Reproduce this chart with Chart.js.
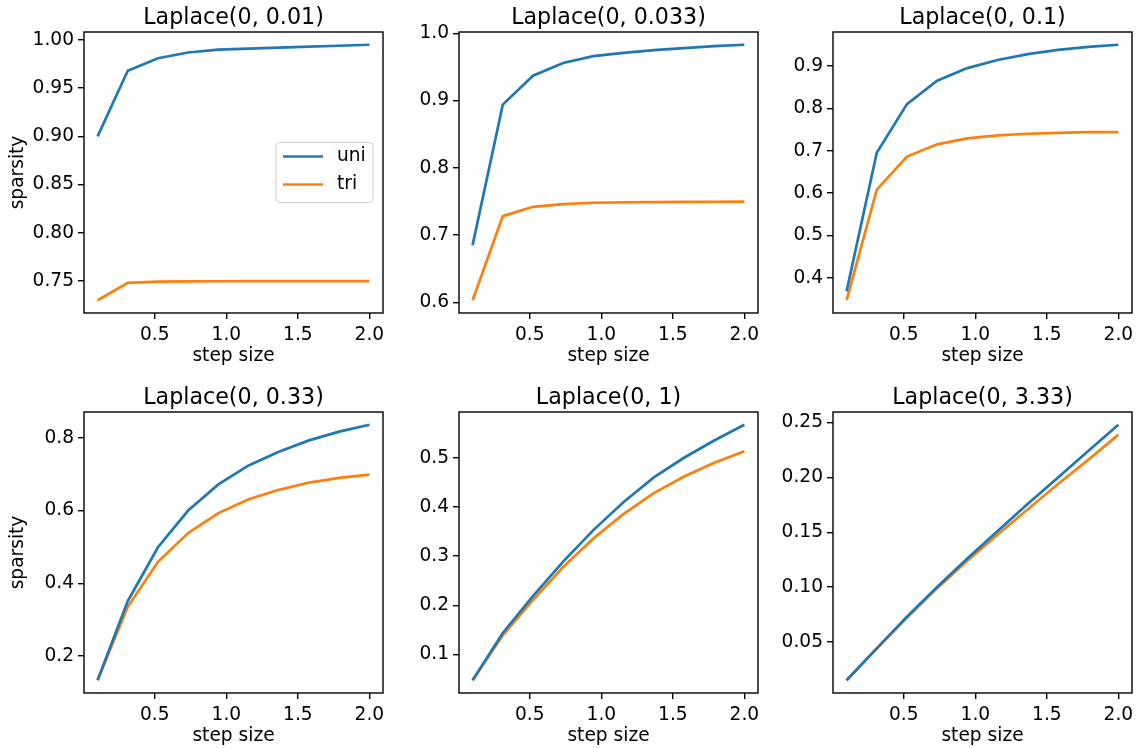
<!DOCTYPE html>
<html>
<head>
<meta charset="utf-8">
<script src="https://cdn.jsdelivr.net/npm/chart.js@4/dist/chart.umd.min.js"></script>
<style>
  body { margin: 0; background: #fff; }
  #fig { position: relative; width: 1142px; height: 748px; overflow: hidden; }
  #fig canvas { position: absolute; }
</style>
</head>
<body>
<div id="fig">
  <canvas id="p0" width="393" height="369" style="left:0px;top:0px"></canvas>
  <canvas id="p1" width="393" height="369" style="left:375px;top:0px"></canvas>
  <canvas id="p2" width="393" height="369" style="left:749px;top:0px"></canvas>
  <canvas id="p3" width="393" height="369" style="left:0px;top:380px"></canvas>
  <canvas id="p4" width="393" height="369" style="left:375px;top:380px"></canvas>
  <canvas id="p5" width="393" height="369" style="left:749px;top:380px"></canvas>
</div>
<script>
// step sizes shared by every panel
const stepSizes = [0.1, 0.311, 0.522, 0.733, 0.944, 1.156, 1.367, 1.578, 1.789, 2.0];

const titles = ["Laplace(0, 0.01)", "Laplace(0, 0.033)", "Laplace(0, 0.1)",
                "Laplace(0, 0.33)", "Laplace(0, 1)", "Laplace(0, 3.33)"];

// sparsity per scale, uniform vs triangular
const uni001  = [0.900, 0.968, 0.981, 0.987, 0.990, 0.991, 0.992, 0.993, 0.994, 0.995];
const tri001  = [0.730, 0.748, 0.7493, 0.7496, 0.7497, 0.7498, 0.7498, 0.7499, 0.7499, 0.7499];
const uni0033 = [0.685, 0.894, 0.937, 0.956, 0.966, 0.971, 0.975, 0.978, 0.981, 0.983];
const tri0033 = [0.603, 0.728, 0.742, 0.746, 0.748, 0.7485, 0.749, 0.7493, 0.7495, 0.7496];
const uni01   = [0.368, 0.695, 0.810, 0.865, 0.895, 0.914, 0.928, 0.938, 0.945, 0.950];
const tri01   = [0.347, 0.608, 0.686, 0.715, 0.729, 0.736, 0.740, 0.742, 0.744, 0.744];
const uni033  = [0.133, 0.351, 0.499, 0.600, 0.672, 0.724, 0.762, 0.793, 0.817, 0.836];
const tri033  = [0.133, 0.335, 0.459, 0.538, 0.593, 0.631, 0.657, 0.677, 0.690, 0.699];
const uni1    = [0.048, 0.144, 0.219, 0.289, 0.353, 0.410, 0.460, 0.500, 0.535, 0.567];
const tri1    = [0.048, 0.139, 0.211, 0.278, 0.336, 0.386, 0.428, 0.462, 0.490, 0.513];
const uni333  = [0.015, 0.044, 0.073, 0.100, 0.126, 0.151, 0.176, 0.200, 0.224, 0.248];
const tri333  = [0.015, 0.044, 0.072, 0.099, 0.124, 0.148, 0.171, 0.194, 0.216, 0.239];

const uniSeries = [uni001, uni0033, uni01, uni033, uni1, uni333];
const triSeries = [tri001, tri0033, tri01, tri033, tri1, tri333];

// y tick spacing and decimals per panel
const yStep = [0.05, 0.1, 0.1, 0.2, 0.1, 0.05];
const yDecimals = [2, 1, 1, 1, 1, 2];

const FONT = '"DejaVu Sans", sans-serif';
const BLUE = '#1f77b4';
const ORANGE = '#ff7f0e';
const TICK_SIZE = 18.6;

// title centred over the plot area, like matplotlib's axes title
const axesTitle = {
    id: 'axesTitle',
    afterDraw(chart, args, opts) {
        const { ctx, chartArea } = chart;
        ctx.save();
        ctx.font = '22.2px ' + FONT;
        ctx.fillStyle = '#000';
        ctx.textAlign = 'center';
        ctx.textBaseline = 'alphabetic';
        ctx.fillText(opts.text, (chartArea.left + chartArea.right) / 2, chartArea.top - 8);
        ctx.restore();
    }
};

// full box round the plot area
const frame = {
    id: 'frame',
    afterDatasetsDraw(chart) {
        const { ctx, chartArea: a } = chart;
        ctx.save();
        ctx.strokeStyle = '#000';
        ctx.lineWidth = 1.4;
        ctx.strokeRect(a.left, a.top, a.right - a.left, a.bottom - a.top);
        ctx.restore();
    }
};

// legend box at centre right inside the plot
const insideLegend = {
    id: 'insideLegend',
    afterDraw(chart, args, opts) {
        if (!opts.show) return;
        const { ctx, chartArea: a } = chart;
        const w = 97, h = 60;
        const x = a.right - 10 - w;
        const y = (a.top + a.bottom) / 2 - h / 2;
        ctx.save();
        ctx.beginPath();
        ctx.roundRect(x, y, w, h, 4);
        ctx.fillStyle = 'rgba(255,255,255,0.8)';
        ctx.fill();
        ctx.strokeStyle = '#cccccc';
        ctx.lineWidth = 1;
        ctx.stroke();
        ctx.font = TICK_SIZE + 'px ' + FONT;
        ctx.textBaseline = 'middle';
        ctx.fillStyle = '#000';
        chart.data.datasets.forEach((ds, i) => {
            const ry = y + 14 + i * 28;
            ctx.beginPath();
            ctx.moveTo(x + 7, ry);
            ctx.lineTo(x + 47, ry);
            ctx.strokeStyle = ds.borderColor;
            ctx.lineWidth = 2.7;
            ctx.stroke();
            ctx.fillText(ds.label, x + 61, ry);
        });
        ctx.restore();
    }
};

function makePanel(i) {
    const uni = uniSeries[i], tri = triSeries[i];
    const all = uni.concat(tri);
    const lo = Math.min(...all), hi = Math.max(...all);
    const ypad = (hi - lo) * 0.05;
    const xlo = stepSizes[0], xhi = stepSizes[stepSizes.length - 1];
    const xpad = (xhi - xlo) * 0.05;
    const showYLabel = (i % 3 === 0);

    new Chart(document.getElementById('p' + i), {
        type: 'line',
        data: {
            datasets: [
                { label: 'uni', data: stepSizes.map((x, k) => ({ x, y: uni[k] })),
                  borderColor: BLUE, borderWidth: 2.7, pointRadius: 0, fill: false, tension: 0 },
                { label: 'tri', data: stepSizes.map((x, k) => ({ x, y: tri[k] })),
                  borderColor: ORANGE, borderWidth: 2.7, pointRadius: 0, fill: false, tension: 0 }
            ]
        },
        options: {
            responsive: false,
            animation: false,
            layout: { padding: { top: 32, right: 10, left: 0, bottom: 0 } },
            plugins: {
                legend: { display: false },
                tooltip: { enabled: false },
                axesTitle: { text: titles[i] },
                insideLegend: { show: i === 0 }
            },
            scales: {
                x: {
                    type: 'linear',
                    min: xlo - xpad,
                    max: xhi + xpad,
                    afterFit: s => { s.height = 56; },
                    border: { display: false },
                    grid: { drawOnChartArea: false, drawTicks: true, tickLength: 6, color: '#000', lineWidth: 1.4 },
                    ticks: {
                        stepSize: 0.5, includeBounds: false, padding: 5, color: '#000',
                        font: { family: FONT, size: TICK_SIZE }, maxRotation: 0,
                        callback: v => v.toFixed(1)
                    },
                    title: { display: true, text: 'step size', color: '#000',
                             font: { family: FONT, size: TICK_SIZE }, padding: { top: 0, bottom: 2 } }
                },
                y: {
                    type: 'linear',
                    min: lo - ypad,
                    max: hi + ypad,
                    afterFit: s => { s.width = 84; },
                    border: { display: false },
                    grid: { drawOnChartArea: false, drawTicks: true, tickLength: 6, color: '#000', lineWidth: 1.4 },
                    ticks: {
                        stepSize: yStep[i], includeBounds: false, padding: 4, color: '#000',
                        font: { family: FONT, size: TICK_SIZE },
                        callback: v => v.toFixed(yDecimals[i])
                    },
                    title: { display: showYLabel, text: 'sparsity', color: '#000',
                             font: { family: FONT, size: TICK_SIZE }, padding: { top: 7, bottom: 0 } }
                }
            }
        },
        plugins: [axesTitle, frame, insideLegend]
    });
}

for (let i = 0; i < 6; i++) makePanel(i);
</script>
</body>
</html>
